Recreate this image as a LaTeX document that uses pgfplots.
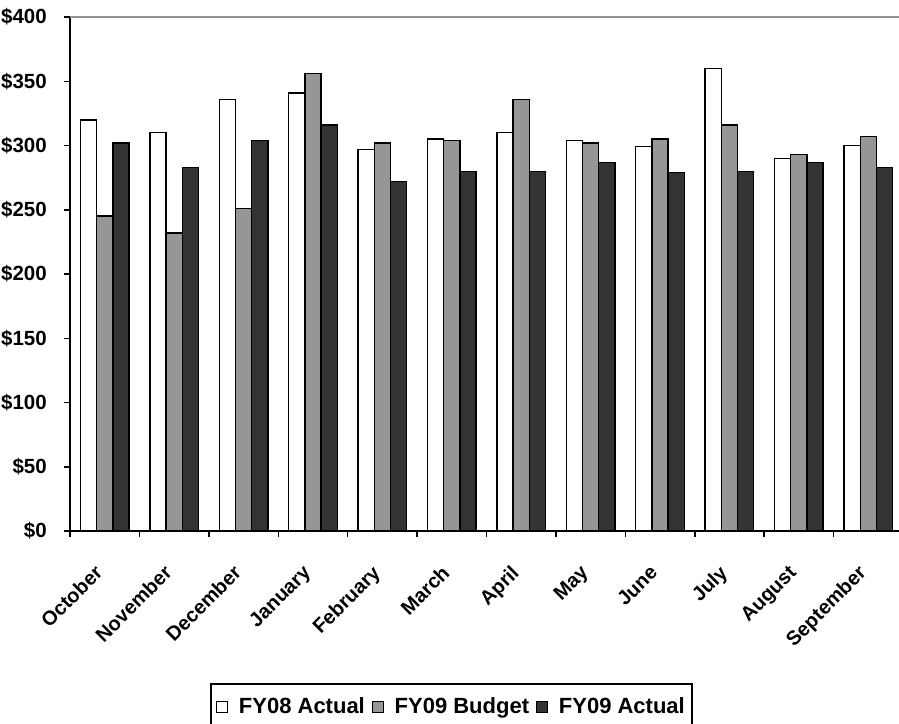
\documentclass[border=0pt]{standalone}
\usepackage{fontspec}
\setmainfont{Liberation Sans}
\usepackage{pgfplots}
\pgfplotsset{compat=1.18}
\definecolor{budget}{HTML}{969696}
\definecolor{actual}{HTML}{333333}
\begin{document}
\begin{tikzpicture}
\useasboundingbox (-70pt,-192pt) rectangle (829pt,531pt);
\begin{axis}[
  scale only axis, width=833pt, height=514pt,
  ybar=0pt, bar width=16.2pt,
  xmin=-0.5, xmax=11.5, ymin=0, ymax=400,
  axis x line*=bottom, axis y line*=left,
  axis line style={-, line width=1.5pt, black},
  tick align=outside, major tick length=6pt,
  tick style={line width=1.5pt, black},
  xtick={-0.5,0.5,...,11.5}, x tick label as interval,
  xticklabels={October,November,December,January,February,March,April,May,June,July,August,September},
  xticklabel style={rotate=45, anchor=north east, font=\bfseries\fontsize{20}{22}\selectfont, inner sep=0pt, xshift=-27pt, yshift=-11pt},
  ytick={0,50,...,400},
  yticklabels={\$0,\$50,\$100,\$150,\$200,\$250,\$300,\$350,\$400},
  yticklabel style={font=\bfseries\fontsize{20.5}{22}\selectfont, inner sep=0pt, xshift=-17pt},
  extra y ticks={400}, extra y tick labels={},
  extra y tick style={grid=major, major grid style={line width=1.5pt, gray!85}},
  legend columns=-1,
  legend style={at={(0.458,-0.296)}, anchor=north, draw=black, line width=1.5pt,
    font=\bfseries\fontsize{22}{24}\selectfont, inner xsep=5pt, inner ysep=12pt,
    /tikz/every odd column/.append style={column sep=9pt},
    /tikz/every even column/.append style={column sep=5pt}},
  legend image code/.code={\draw[#1, line width=0.8pt] (0pt,-5.5pt) rectangle (11pt,5.5pt);},
]
\addplot[fill=white, draw=black, line width=1.4pt] coordinates {(0,320) (1,310) (2,336) (3,341) (4,297) (5,305) (6,310) (7,304) (8,299) (9,360) (10,290) (11,300)};
\addplot[fill=budget, draw=black, line width=1.4pt] coordinates {(0,245) (1,232) (2,251) (3,356) (4,302) (5,304) (6,336) (7,302) (8,305) (9,316) (10,293) (11,307)};
\addplot[fill=actual, draw=black, line width=1.4pt] coordinates {(0,302) (1,283) (2,304) (3,316) (4,272) (5,280) (6,280) (7,287) (8,279) (9,280) (10,287) (11,283)};
\legend{FY08 Actual, FY09 Budget, FY09 Actual}
\end{axis}
\end{tikzpicture}
\end{document}
